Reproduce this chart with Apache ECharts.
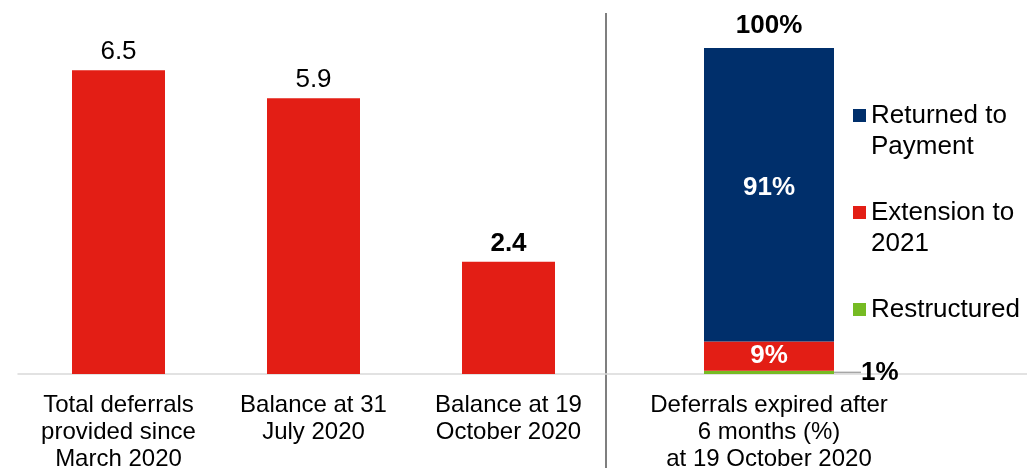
<!DOCTYPE html>
<html>
<head>
<meta charset="utf-8">
<script src="https://cdn.jsdelivr.net/npm/echarts@6/dist/echarts.min.js"></script>
<style>
html,body{margin:0;padding:0;background:#fff;}
#chart{width:1027px;height:468px;}
</style>
</head>
<body>
<div id="chart"></div>
<script>
// ---- data ----
const categories = ['Total deferrals\nprovided since\nMarch 2020', 'Balance at 31\nJuly 2020', 'Balance at 19\nOctober 2020'];
const balances = [6.5, 5.9, 2.4];
const boldBalance = [false, false, true];
const expiredCategory = ['Deferrals expired after\n6 months (%)\nat 19 October 2020'];
const restructured = [1];
const extension = [9];
const returnedToPayment = [91];
const totalExpired = [100];
const seriesNames = ['Returned to Payment', 'Extension to 2021', 'Restructured'];
const legendLabels = {'Returned to Payment': '\nReturned to\nPayment', 'Extension to 2021': '\nExtension to\n2021', 'Restructured': '\nRestructured\n'};

const RED = '#E31E15', NAVY = '#002F6B', GREEN = '#76BB23';
const FONT = '"Liberation Sans", Arial, sans-serif';

const chart = echarts.init(document.getElementById('chart'), null, {renderer: 'canvas'});
chart.setOption({
  animation: false,
  textStyle: {fontFamily: FONT},
  legend: {
    orient: 'vertical',
    left: 853, top: 69,
    padding: 0,
    itemWidth: 13, itemHeight: 13, itemGap: 4,
    icon: 'rect',
    data: seriesNames,
    formatter: n => legendLabels[n],
    textStyle: {fontSize: 26, lineHeight: 31, color: '#000', fontFamily: FONT},
    selectedMode: false
  },
  grid: [
    {left: 21, right: 421, top: 0, bottom: 94, outerBoundsMode: 'none'},
    {left: 18, right: 0, top: 0, bottom: 94, outerBoundsMode: 'none'},
    {left: 704, width: 130, top: 48, bottom: 94, outerBoundsMode: 'none'}
  ],
  xAxis: [
    {gridIndex: 0, type: 'category', data: categories,
     axisLine: {show: false}, axisTick: {show: false},
     axisLabel: {fontSize: 24, lineHeight: 27, color: '#000', margin: 18, interval: 0, fontFamily: FONT}},
    {gridIndex: 1, type: 'category', data: [''],
     axisLine: {show: true, lineStyle: {color: '#d9d9d9', width: 1.5}}, axisTick: {show: false}, axisLabel: {show: false}},
    {gridIndex: 2, type: 'category', data: expiredCategory,
     axisLine: {show: false}, axisTick: {show: false},
     axisLabel: {fontSize: 24, lineHeight: 27, color: '#000', margin: 18, interval: 0, fontFamily: FONT}}
  ],
  yAxis: [
    {gridIndex: 0, type: 'value', min: 0, max: 8, show: false},
    {gridIndex: 1, type: 'value', min: 0, max: 1, show: false},
    {gridIndex: 2, type: 'value', min: 0, max: 100, show: false}
  ],
  graphic: [
    {type: 'line', shape: {x1: 606, y1: 13, x2: 606, y2: 468}, style: {stroke: '#7f7f7f', lineWidth: 2}}
  ],
  series: [
    {name: 'Balance', type: 'bar', xAxisIndex: 0, yAxisIndex: 0, barWidth: 93,
     itemStyle: {color: RED},
     data: balances.map((v, i) => ({value: v, label: {fontWeight: boldBalance[i] ? 'bold' : 'normal'}})),
     label: {show: true, position: 'top', distance: 5, fontSize: 26, color: '#000', fontFamily: FONT}},
    {name: 'Restructured', type: 'bar', xAxisIndex: 2, yAxisIndex: 2, stack: 'exp', barWidth: '100%', barGap: '-100%',
     itemStyle: {color: GREEN}, data: restructured,
     label: {show: true, position: 'right', distance: 0, formatter: '{c}%', fontSize: 26, fontWeight: 'bold', color: '#000', fontFamily: FONT},
     labelLayout: {dx: 27, dy: 0},
     labelLine: {show: true, lineStyle: {color: '#a6a6a6', width: 1.5}}},
    {name: 'Extension to 2021', type: 'bar', xAxisIndex: 2, yAxisIndex: 2, stack: 'exp', barWidth: '100%', barGap: '-100%',
     itemStyle: {color: RED}, data: extension,
     label: {show: true, position: 'inside', formatter: '{c}%', fontSize: 26, fontWeight: 'bold', color: '#fff', fontFamily: FONT}},
    {name: 'Returned to Payment', type: 'bar', xAxisIndex: 2, yAxisIndex: 2, stack: 'exp', barWidth: '100%', barGap: '-100%',
     itemStyle: {color: NAVY}, data: returnedToPayment,
     label: {show: true, position: 'inside', offset: [0, -7], formatter: '{c}%', fontSize: 26, fontWeight: 'bold', color: '#fff', fontFamily: FONT}},
    {name: 'Total', type: 'bar', xAxisIndex: 2, yAxisIndex: 2, barWidth: '100%', barGap: '-100%', z: 1,
     itemStyle: {color: 'rgba(0,0,0,0)'}, data: totalExpired,
     label: {show: true, position: 'top', distance: 9, formatter: '{c}%', fontSize: 26, fontWeight: 'bold', color: '#000', fontFamily: FONT}}
  ]
});
</script>
</body>
</html>
